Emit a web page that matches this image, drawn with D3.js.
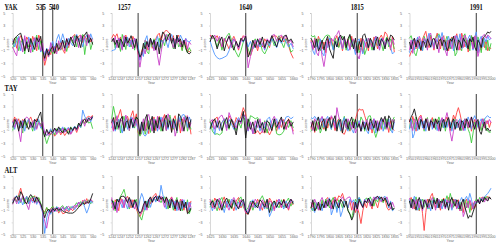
<!DOCTYPE html>
<html>
<head>
<meta charset="utf-8">
<script src="https://cdn.jsdelivr.net/npm/d3@7"></script>
<style>
  body { margin: 0; background: #fff; }
  .axis path, .axis line { stroke: #b0b0b0; stroke-width: 0.5; }
  .axis text { font-family: "Liberation Sans", Arial, sans-serif; font-size: 3.6px; fill: #666; }
  .lbl { font-family: "Liberation Sans", Arial, sans-serif; font-size: 3.6px; fill: #666; }
  .head { font-family: "Liberation Serif", "Times New Roman", serif; font-weight: bold; font-size: 8.5px; fill: #111; }
</style>
</head>
<body>
<div id="chart"></div>
<script>
// sites (rows), windows (columns), events
var rowNames = ["YAK", "TAY", "ALT"];
var colStart = [520, 1242, 1625, 1790, 1950];
var colEnd = [560, 1287, 1660, 1835, 2000];
var events = [[535, 540], [1257], [1640], [1815], [1991]];
var yTicks = [5, 3, 1, -1, -3, -5];
var seriesColors = ["#ff4040", "#40cc40", "#4f96ff", "#c840c8", "#151515"];

// each panel: [red, green, blue, magenta, black], one value per year
var yak535 = [
  [0.4,1.0,-0.6,0.8,1.4,0.2,-0.8,1.2,0.6,-0.4, 1.3,0.4,-1.0,1.5,0.8,-1.2,-3.3,-2.0,-0.8,-1.6, -0.4,-1.4,-0.2,-1.0,0.5,-0.8,-1.4,0.2,-0.5,1.0, 1.2,1.6,0.6,1.3,1.5,0.3,1.4,0.8,1.5,0.4, 1.0],
  [-0.6,0.4,1.2,-1.0,0.2,0.8,-1.5,0.6,-0.4,1.0, -1.2,0.4,1.5,-0.8,0.6,-1.5,-2.2,-1.2,-1.8,-0.6, -1.5,-0.4,-1.2,0.2,-0.9,-0.3,0.6,-1.1,0.3,0.9, 0.2,1.4,-0.4,1.0,0.5,1.6,-1.6,0.7,1.5,-0.8, 0.4],
  [0.8,-0.4,0.6,1.3,-1.0,0.4,1.0,-0.6,1.2,0.2, -0.8,1.0,0.0,0.6,-1.2,-0.5,-1.6,-0.6,-1.4,-0.3, 0.5,-0.9,0.8,1.6,0.3,1.7,0.6,-0.5,1.0,0.3, -0.2,0.8,1.6,0.5,1.2,-0.4,1.0,1.5,0.2,1.7, 0.8],
  [-0.4,-1.2,-1.8,1.0,0.4,-1.2,1.4,-0.6,0.8,-1.3, 0.4,1.1,-0.4,1.0,-1.0,0.2,-2.6,-0.9,-2.0,0.3, -1.2,-0.3,-1.5,0.6,-0.8,0.5,-1.0,1.0,-0.2,0.7, 1.3,0.3,1.0,-0.5,1.5,0.6,1.1,-0.2,1.6,0.9, 0.5],
  [0.0,1.0,1.3,1.6,1.8,0.6,-1.0,0.4,-1.2,0.9, 0.0,-0.8,1.1,0.4,1.3,-1.0,-2.2,-0.7,-1.7,-0.8, -0.3,-1.4,0.2,-0.8,-0.3,0.7,-0.6,0.9,0.0,1.2, 0.5,-0.4,1.4,0.7,-0.5,1.3,1.5,2.0,0.3,1.0, 0.0]
];
var yak1257 = [
  [1.0,1.6,1.2,1.7,0.6,1.2,-0.4,0.9,1.5,0.4, 1.0,-0.3,1.3,0.6,0.3,-1.5,-2.2,-1.0,-0.4,0.7, -0.9,0.2,1.0,-0.6,0.4,0.9,1.5,1.8,0.5,1.6, 2.0,2.3,2.0,1.7,0.6,1.4,-0.4,1.0,1.5,0.3, -0.9,0.6,0.2,-1.0,-1.2,-0.9],
  [0.4,0.9,-0.6,0.7,0.2,-1.1,1.6,0.5,-0.8,1.0, 0.4,-0.4,0.7,-0.9,0.5,-0.4,-2.0,-1.6,-0.5,0.4, -1.1,-1.5,0.5,-0.4,0.9,-0.7,0.2,1.0,-0.6,0.7, -0.2,1.2,1.6,0.9,0.4,-0.7,0.5,1.0,-0.4,0.2, -1.0,0.5,-0.7,-1.3,-0.5,-1.1],
  [-1.0,-0.9,-0.8,0.4,1.0,0.5,-0.7,0.9,0.2,1.2, -0.4,0.7,0.0,1.0,0.5,-0.2,-2.5,-1.2,-1.9,0.7, 1.4,-0.5,0.9,0.4,-0.7,0.5,1.3,-0.4,0.7,0.2, 1.0,0.4,-0.5,0.9,1.6,0.7,-0.4,1.2,0.5,1.5, 0.9,0.2,1.0,0.5,0.4,0.7],
  [0.9,0.4,1.2,-0.5,1.0,0.2,-0.9,1.4,0.4,-0.2, 0.9,0.5,-0.7,1.0,0.0,-1.3,-3.6,-1.8,-0.7,-1.5, 0.4,-0.9,0.7,0.2,-1.0,0.5,-1.8,-3.3,-1.3,0.4, 1.0,1.6,0.7,1.3,0.4,-0.5,0.9,0.2,1.0,-0.4, 0.5,0.0,0.9,-0.7,0.4,0.0],
  [0.5,1.0,0.0,0.7,-0.5,0.9,0.4,-0.4,1.2,0.2, 0.7,1.4,0.4,-0.5,0.9,-1.0,-2.0,-1.5,0.2,-0.7, 0.5,-0.4,1.0,0.0,0.7,-0.9,0.4,-1.5,0.9,2.0, 1.6,0.5,1.3,1.8,0.2,1.0,-0.7,1.5,0.4,0.9, -0.4,0.7,-0.5,-1.3,-1.5,-1.2]
];
var yak1640 = [
  [1.5,1.2,0.9,1.4,0.4,-0.5,0.9,0.2,-0.7,0.5, 1.3,0.4,-0.9,0.7,1.4,1.0,-1.4,-1.8,-0.7,0.4, -1.0,0.5,-0.4,0.9,0.2,-0.5,1.1,1.4,1.3,0.7, 1.3,0.4,1.0,-0.2,-1.4,-2.2],
  [0.9,1.3,0.7,-0.4,1.0,-0.9,0.5,1.3,1.8,0.8, -0.5,-1.3,-2.0,-1.0,0.4,1.1,-0.7,-1.6,0.2,0.9, -0.4,0.5,-1.0,-1.5,-0.7,0.4,1.0,-0.2,0.7,1.4, 0.4,-0.5,0.9,0.2,-1.2,-0.9],
  [0.6,-0.6,-1.6,-2.1,-2.3,-2.2,-2.0,-1.8,-1.0,0.4, 0.9,0.2,-0.5,0.7,0.4,1.0,-0.4,0.5,-0.7,-0.2, 0.7,-0.4,0.2,-0.9,0.5,-0.2,0.9,0.4,-0.5,0.7, 0.2,1.0,0.4,-0.4,0.2,-0.7],
  [1.4,0.9,1.5,0.5,1.3,-0.4,1.0,0.4,1.4,-0.5, 0.9,0.2,-0.7,0.5,1.2,1.4,-3.7,-1.9,-0.4,0.7, -0.5,1.0,0.2,-0.7,0.9,0.4,1.4,1.6,0.5,1.2, 1.5,0.9,1.4,0.2,0.7,-0.4],
  [0.4,1.5,0.9,-0.7,0.5,1.2,-1.0,0.4,1.3,0.2, -0.9,0.5,-0.4,1.0,0.5,1.3,-2.0,-1.0,0.7,-0.5, 0.9,0.0,1.2,-0.5,0.7,0.2,1.4,0.5,-0.4,1.0, 0.4,1.3,1.5,0.5,0.9,0.2]
];
var yak1815 = [
  [0.7,-0.9,1.0,-0.4,1.3,0.5,-0.7,0.4,-1.3,0.9, 0.2,1.0,-0.5,0.7,1.4,-0.4,0.5,-1.0,0.4,-0.5, 0.9,-0.7,1.3,-0.4,0.7,0.2,-0.9,1.0,-1.3,-0.5, 0.4,-1.0,0.9,-0.4,1.2,0.5,-0.7,1.0,1.5,0.7, 2.0,1.6,0.5,-0.9,1.3,-1.2],
  [1.5,1.2,1.4,-0.4,0.9,-1.0,0.5,1.0,1.4,1.5, 1.4,0.4,-0.7,1.0,0.2,-0.5,0.9,1.3,0.4,-0.9, 0.5,1.4,-0.4,0.7,-1.0,0.4,-1.3,-0.5,0.9,-1.6, -0.7,1.0,0.4,-0.9,0.5,1.3,-0.2,0.7,0.2,-1.0, 0.5,1.2,-0.4,0.9,0.4,-0.7],
  [0.4,-1.0,-1.6,0.5,-0.7,0.9,-1.3,-1.8,0.4,-0.5, 1.0,0.2,-0.9,0.5,-0.4,1.2,0.4,-0.7,0.9,0.2, -1.0,-0.5,0.7,-0.2,-1.6,0.5,0.9,-0.4,-1.5,0.4, 1.0,-0.5,0.7,0.2,-0.9,1.3,0.4,-0.7,1.0,0.5, -0.4,0.9,0.2,-0.5,-1.5,-1.2],
  [0.5,-0.7,0.9,-1.3,-1.8,0.4,-2.0,-3.5,-1.5,0.7, -0.4,1.0,0.5,1.3,1.6,2.2,0.9,-0.5,1.0,0.2, 0.7,-0.9,0.4,0.9,-0.7,-1.6,-2.3,-0.7,0.9,0.4, -0.5,1.0,0.2,-0.4,0.7,1.3,0.4,-0.9,0.5,1.0, -0.2,0.7,0.4,-0.5,0.9,0.0],
  [1.0,0.4,-0.5,0.9,-1.0,-0.4,0.7,-0.9,0.5,1.3, -0.7,-1.5,-2.2,0.5,-0.4,1.0,1.5,0.7,1.3,-0.5, 0.9,1.6,0.4,-0.7,1.0,-1.3,0.5,-0.4,1.4,1.7, 0.7,-0.5,1.0,0.4,-0.9,0.5,1.2,-0.2,0.9,0.4, -0.7,1.0,0.5,1.5,1.3,0.7]
];
var yak1991 = [
  [-1.9,-1.2,-0.8,0.5,-0.7,1.0,0.4,-1.0,0.9,1.5, 2.1,0.7,-0.5,1.3,0.4,-0.9,1.0,1.8,0.5,-0.7, 0.9,1.4,-0.4,0.7,-1.0,0.5,1.2,-0.5,0.9,1.7, 0.4,-0.9,1.8,1.0,-0.4,0.7,-1.2,0.5,1.4,-0.7, 0.9,1.8,-1.3,0.4,-0.9,1.0,-0.5,0.7,-1.0,-0.4, -0.7],
  [1.0,1.4,0.4,-1.3,-1.8,-0.7,0.9,0.4,-1.0,1.3, 0.5,-0.4,1.0,1.5,0.7,-0.5,0.9,1.4,1.7,1.0, 0.4,-0.9,0.5,1.3,0.2,-0.7,1.0,0.4,-1.8,-1.3, 0.9,0.5,-1.0,1.3,1.7,-0.4,0.7,-1.0,1.4,0.4, 0.9,-0.7,1.2,0.2,-1.3,0.9,0.4,-0.9,0.7,-1.0, 0.2],
  [-1.3,-0.4,0.7,-0.9,0.4,1.2,-0.7,0.5,-1.0,0.9, 0.2,1.0,1.8,-0.5,0.7,-0.4,1.0,0.4,1.5,0.9, 1.9,0.5,-0.9,0.7,1.3,-0.4,0.9,-1.0,0.5,1.4, 0.4,1.7,-0.7,0.9,0.2,-0.5,1.0,1.5,0.4,-0.9, 1.2,2.0,-1.3,0.7,1.3,-0.4,1.0,0.4,1.4,0.7, 1.0],
  [-0.9,0.7,-1.4,1.0,0.4,-0.5,1.3,0.7,-0.4,1.0, 0.5,-0.9,1.4,1.8,0.4,-0.7,1.0,0.2,-1.3,0.5, 1.2,-0.4,-1.0,-1.8,0.7,0.4,-0.7,1.0,1.4,0.4, -0.9,0.7,1.3,-0.5,1.5,0.9,-0.4,1.0,0.5,-0.7, 1.3,0.5,-1.9,-0.9,0.7,1.4,1.6,1.0,1.5,1.3, 0.9],
  [0.4,-0.7,0.5,1.0,-0.4,0.7,0.2,-0.9,0.5,0.4, -0.5,0.9,0.2,-0.4,0.7,1.0,0.4,-0.7,0.5,0.9, -0.2,0.7,0.4,-1.0,-0.4,0.9,0.5,1.3,0.2,-0.9, 0.7,0.4,-0.5,1.0,0.5,0.2,-0.7,0.9,0.4,1.2, -0.4,-1.0,0.7,0.2,-0.5,0.9,1.3,1.6,2.0,1.8, 2.1]
];

var tay535 = [
  [0.4,1.3,0.2,1.0,-0.4,0.9,0.5,-0.5,0.7,1.3, 0.4,-0.7,1.0,0.5,0.2,-0.7,-1.3,-1.7,-1.2,-1.6, -0.9,-1.8,-1.3,-0.7,-1.6,-1.0,-1.7,-1.2,-0.6,-1.4, -0.8,-0.4,-1.2,-0.3,0.3,0.8,0.3,1.2,1.4,1.2, 1.6],
  [-0.9,0.5,1.0,-0.7,0.4,-1.3,0.7,-0.4,0.9,0.2, -1.0,0.5,-0.5,0.7,0.0,-1.0,-1.8,-3.0,-2.0,-1.4, -0.8,-1.6,-0.6,-1.2,-0.5,-1.1,-0.4,-0.9,-1.2,-0.3, -0.8,-0.2,-0.7,0.3,-0.4,0.8,0.2,1.0,0.3,0.5, -0.6],
  [0.5,-0.7,0.9,0.2,-0.5,0.7,-1.0,0.4,1.0,-0.4, 0.5,-0.9,0.4,0.9,-0.5,-0.3,-1.2,-1.7,-1.2,-0.6, -1.4,-0.7,-1.2,-0.5,-0.9,-0.3,-1.1,-0.6,-0.4,-1.2, -0.6,-0.2,-0.6,0.0,-0.4,2.4,1.4,0.8,1.2,0.5, 1.3],
  [0.7,-0.4,1.0,-0.9,-2.7,0.4,0.9,1.3,1.0,-0.4, 0.5,0.9,-0.7,0.4,-0.2,0.5,-1.4,-0.9,-1.7,-1.3, -1.1,-0.6,-1.5,-0.9,-1.3,-0.5,-1.2,-0.8,-0.5,-1.5, -1.0,-0.4,-0.9,-0.2,0.5,0.9,-0.2,1.0,0.6,1.3, 1.1],
  [-0.4,0.9,0.4,-1.0,0.7,-0.5,1.0,0.0,-0.7,0.5, -0.4,0.9,0.5,1.4,2.1,-0.7,-1.9,-0.7,-1.4,-0.9, -1.2,-0.5,-1.0,-0.3,-0.9,-1.3,-0.6,-1.0,-1.5,-0.4, -0.9,-0.3,-0.7,0.3,-0.2,0.6,1.0,0.4,1.1,0.8, 1.4]
];
var tay1257 = [
  [0.5,-0.9,1.3,0.7,1.6,2.5,1.0,-0.5,0.9,1.4, 0.4,1.5,2.3,0.7,1.8,-1.3,-1.6,-0.7,0.5,-1.0, 0.4,-1.4,0.9,-0.5,1.3,-0.9,0.7,1.4,-0.4,1.0, 1.7,-0.7,0.4,1.3,-1.0,0.9,1.5,-0.4,0.7,-1.3, 1.0,0.4,1.5,-0.5,0.5,-1.5],
  [1.0,3.0,1.6,-0.7,0.9,-1.3,0.5,1.4,-0.4,1.0, -0.9,0.7,0.2,-0.5,1.3,-1.0,-1.8,-1.3,0.4,-1.5, -0.5,0.7,-1.2,0.4,-0.7,0.9,-0.4,1.3,-1.0,0.2, 1.0,-0.9,0.5,1.6,0.4,-0.7,0.9,-1.3,0.5,1.0, -0.4,0.7,1.4,-1.0,0.2,-0.7],
  [-0.5,0.7,-1.0,0.4,0.9,-0.4,-1.3,0.5,1.0,-0.7, 0.4,1.3,-0.5,0.9,0.2,-0.7,-1.0,0.5,-1.5,-1.8, -1.4,-0.5,0.7,-0.9,1.0,0.2,-1.0,0.5,1.3,-0.4, 0.9,0.4,-0.7,1.0,0.2,-0.5,0.7,-1.0,1.4,0.5, 1.6,1.7,1.0,-0.4,1.3,0.5],
  [0.9,-1.0,0.4,1.5,-0.7,1.0,0.5,-0.4,1.6,0.7, -0.9,0.5,1.2,-0.2,0.9,-0.5,-1.4,-0.4,1.0,-0.9, 1.3,1.7,0.4,-1.0,0.9,-0.4,1.4,-0.7,0.5,1.2, 0.2,-0.9,1.8,0.7,-0.5,1.0,-1.8,-0.7,0.9,0.4, -1.0,1.3,0.5,1.5,-0.7,0.4],
  [0.4,1.2,-0.7,0.5,-0.4,0.9,1.4,-1.0,0.4,0.7, -0.5,1.0,-0.4,0.5,1.3,0.9,-1.5,0.5,-0.9,1.0, 1.7,-0.7,0.4,1.4,-1.3,0.7,-0.5,1.2,0.4,-1.0, 0.9,1.6,-0.4,0.7,-1.2,1.0,0.2,-0.9,1.8,1.4, 0.5,-1.0,0.7,1.3,-0.4,0.9]
];
var tay1640 = [
  [0.5,-0.4,0.9,1.3,-0.7,0.4,1.0,-0.5,1.5,0.7, -0.4,1.2,0.5,1.4,2.8,1.8,-0.7,0.4,-1.3,-1.4, -0.9,-1.5,-1.0,-1.3,-0.7,-1.6,-0.8,0.4,-1.0,0.5, -0.4,0.9,-0.7,1.0,0.2,-1.0],
  [0.7,-1.0,-1.5,-1.4,-1.6,-1.3,0.9,0.4,-0.7,1.0, 0.2,-0.9,0.5,-0.5,1.3,0.7,-0.4,1.5,1.3,1.0, 1.2,0.5,-0.9,0.7,-1.3,0.4,-0.5,0.9,-1.4,-1.6, -1.5,-1.0,0.5,-0.4,0.7,-0.5],
  [-0.4,0.5,-1.5,0.7,-0.9,0.4,1.0,-0.5,0.9,0.2, -0.7,0.5,1.2,0.4,1.6,1.3,-1.0,0.5,-1.4,-0.4, 0.7,-1.0,0.4,-0.5,0.9,1.3,-0.4,0.5,1.0,-0.7, 0.9,0.4,1.3,1.4,1.0,1.3],
  [0.4,0.9,-0.7,0.5,1.3,1.6,0.7,-0.9,2.0,1.0, 0.4,-0.5,0.9,0.2,1.8,1.2,-0.9,0.5,-1.4,0.7, -0.4,1.0,-1.2,0.5,0.2,-0.9,0.7,1.4,0.4,-0.5, 1.0,0.2,-0.7,0.5,0.4,-1.5],
  [-0.7,0.5,1.0,-0.4,0.7,-0.9,0.4,1.2,-0.5,0.9, 0.0,-1.6,0.7,0.5,2.2,-2.1,1.0,-0.7,0.5,-1.3, 0.9,-0.5,0.4,-1.2,0.7,0.2,-0.9,1.0,-0.4,0.5, 1.3,-0.7,0.4,0.9,-0.2,0.5]
];
var tay1815 = [
  [-0.7,0.4,-1.2,0.5,-0.4,0.9,0.2,-0.7,1.0,-0.5, 0.7,1.3,0.4,-0.9,0.5,1.0,-0.4,-1.3,-1.5,-0.7, 0.4,-1.0,0.5,-0.4,0.9,2.0,2.6,2.4,2.5,1.5, 0.5,-0.9,0.4,-1.3,0.7,-0.5,-1.0,0.4,-0.7,0.9, -0.4,0.5,-1.2,0.7,-0.5,-0.9],
  [-1.0,-0.4,0.7,-0.9,0.5,-1.3,-0.5,0.4,-1.0,0.7, 0.2,-0.7,1.0,0.5,-0.4,0.9,-1.0,0.4,1.4,-0.5, 0.7,-0.9,0.4,1.0,-0.7,0.5,-0.4,1.3,0.7,-1.0, 0.4,1.4,1.5,0.5,-0.9,-2.0,-1.0,0.4,-0.5,0.9, -0.7,1.0,0.2,-0.9,0.7,1.3],
  [1.2,1.0,1.4,0.9,1.3,0.5,1.2,-0.4,0.9,1.4, 0.4,-0.7,1.0,0.2,-0.5,0.7,-0.9,0.4,1.2,-0.4, -1.0,0.5,-0.7,-1.3,0.4,-0.5,0.7,-1.0,-0.4,0.5, -0.9,-1.4,0.4,-0.7,1.0,-1.3,0.5,-0.4,0.9,-1.0, 0.4,-0.5,1.0,-0.7,-1.3,0.5],
  [0.5,-0.9,1.0,0.4,-0.7,0.9,1.4,0.5,-0.4,1.0, 0.7,1.5,0.9,-0.5,2.8,1.3,0.4,-0.9,0.7,-0.4, 1.0,0.2,-0.7,0.5,-1.3,-0.5,0.4,-1.0,0.7,-0.4, 0.9,0.2,-0.7,0.5,1.0,-0.4,0.7,-0.9,0.4,1.0, 0.2,-0.7,0.5,-0.4,0.9,0.4],
  [-0.4,0.7,-1.0,0.5,1.3,-0.7,0.4,1.0,-0.9,0.5, 1.2,-0.4,0.7,1.5,-1.0,0.5,0.9,-1.3,0.4,1.0, -0.7,0.5,1.3,-0.5,0.9,-0.4,0.2,-1.0,0.5,-0.7, 0.4,-0.9,1.0,0.2,-0.5,0.7,-1.0,0.4,1.2,0.5, 1.4,-0.4,1.5,1.0,-0.7,0.9]
];
var tay1991 = [
  [0.9,-0.5,1.4,0.4,-1.0,0.5,1.3,1.6,0.7,-0.4, 1.0,0.2,-0.9,0.5,1.2,-0.5,0.4,0.9,-0.7,0.4, 1.0,-0.4,0.7,1.3,0.2,-0.9,0.5,1.6,0.9,2.0, 2.8,1.8,0.5,-0.7,0.4,1.0,-0.5,0.7,-1.0,0.2, 0.9,-0.4,0.5,-0.9,0.4,1.0,-0.5,0.2,0.7,-0.4, 0.5],
  [-0.5,1.0,0.4,-0.7,1.3,0.5,-0.4,0.9,0.2,-1.0, 0.5,1.2,-0.5,0.7,0.2,1.0,-0.7,0.4,1.3,0.5, -0.4,0.9,-1.0,0.5,1.0,0.2,-0.7,0.4,0.9,-0.5, 0.7,0.2,-0.9,0.5,1.0,0.4,-0.7,-1.4,-2.9,-1.3, 0.5,-0.4,0.7,0.2,-0.9,0.5,1.0,-0.4,-1.0,-1.2, -1.1],
  [-0.7,1.0,-2.1,-1.4,0.5,-0.9,0.4,1.0,-0.5,0.7, -1.0,0.4,-0.4,0.9,-0.7,0.5,0.2,-0.9,0.7,0.4, 1.0,-0.5,0.5,-0.4,0.9,0.4,-1.0,0.7,0.2,-0.5, 0.5,1.0,-0.4,0.7,-0.9,0.4,1.3,0.5,-0.7,0.9, 1.5,0.7,-0.4,0.5,1.0,0.2,0.9,1.3,1.5,1.2, 1.2],
  [0.7,0.4,-0.9,1.0,0.5,-0.4,0.9,1.4,0.2,-0.7, 0.5,1.0,-0.4,0.7,0.2,-0.5,0.9,0.4,-1.0,0.5, 1.2,0.4,1.0,2.0,0.7,-1.3,-2.6,-1.0,0.5,0.9, -0.4,0.7,0.2,-0.9,1.0,0.5,-0.4,0.7,1.3,0.4, -0.5,0.9,0.2,-0.7,0.5,1.0,-0.4,0.7,0.2,0.9, 0.4],
  [0.5,1.3,1.8,2.6,1.4,0.4,-0.7,0.9,0.4,-0.5, 1.0,0.2,-0.9,0.7,0.5,-0.4,1.0,0.2,0.7,-1.0, 0.5,0.9,-0.4,0.7,1.2,-0.5,0.4,1.0,-0.7,0.5, 0.2,-0.9,0.7,0.4,-0.5,1.0,0.5,-0.4,1.3,0.2, -0.7,0.5,0.9,-1.0,-1.5,-0.4,0.5,-0.9,-0.5,-1.0, -0.8]
];

var alt535 = [
  [0.8,1.4,0.6,1.8,2.9,1.5,0.3,1.5,0.2,1.2, 0.7,1.6,0.3,1.2,0.0,-0.9,-1.2,-0.5,-1.3,-0.7, -0.3,-1.1,-0.5,-1.4,-0.8,-1.5,-1.4,-0.8,-1.2,-0.6, -1.0,-0.4,-0.2,0.5,-0.2,0.8,0.2,1.1,0.4,0.9, 0.5],
  [0.2,1.2,0.5,1.6,0.4,1.3,0.2,1.4,0.5,1.3, 1.5,1.4,0.6,1.3,0.3,-0.8,-1.5,-0.4,-1.1,-0.6, -0.2,-0.9,-0.3,-1.1,-0.4,-0.1,-0.7,-0.2,-0.8,-0.3, -0.5,-0.1,0.4,-0.3,0.6,0.1,0.8,0.3,0.9,0.2, 0.6],
  [0.6,1.3,1.6,0.2,1.1,0.0,0.9,1.5,0.2,1.0, 0.4,1.3,0.1,0.9,-0.3,-1.3,-4.9,-2.2,-0.9,-1.6, -0.5,-1.2,-0.3,-0.7,-1.1,-0.4,-0.9,-0.3,-1.0,-0.5, -0.2,-0.8,-0.1,0.5,0.0,0.6,-0.4,-1.4,-0.5,0.8, 0.3],
  [0.1,1.1,0.2,1.4,0.5,1.6,1.0,0.1,-0.8,0.9, 1.3,0.3,1.4,0.5,0.0,-1.1,-2.8,-4.0,-2.0,-0.7, -1.2,-0.5,-1.1,-0.4,-0.9,-0.3,-1.0,-0.5,-0.2,-0.8, -0.5,0.0,-0.4,0.5,0.0,0.6,0.9,0.2,0.7,1.0, 0.6],
  [0.3,1.1,1.5,0.8,2.3,1.7,0.6,0.2,1.2,1.8, 1.3,0.5,1.4,0.7,0.2,-0.9,-2.2,-1.1,-0.7,-1.3, -0.6,-1.0,-0.5,-0.9,-0.7,-1.0,-1.2,-1.3,-1.4,-1.4, -1.4,-1.2,-0.8,-0.4,0.0,0.4,0.1,0.6,0.3,1.0, 2.0]
];
var alt1257 = [
  [0.4,-0.7,0.9,0.2,-1.0,1.3,0.5,-0.4,1.0,1.5, 0.7,-0.5,0.9,0.4,-0.7,-1.5,-2.0,-1.3,-0.7,0.4, -0.5,1.0,0.2,1.3,1.6,2.0,1.2,1.5,0.9,1.4, 0.5,1.2,-0.4,0.9,1.4,0.4,-1.0,0.7,-0.5,1.0, 0.2,-0.9,0.5,-1.3,-0.4,0.7],
  [-0.5,0.7,-1.0,1.0,0.4,1.5,2.0,2.7,1.4,0.5, -0.7,0.9,-0.4,0.5,1.0,-1.3,-2.0,-2.6,-1.3,-0.4, 0.7,-0.5,1.0,0.4,1.3,0.7,1.5,0.9,0.4,1.2, 1.4,0.5,-0.7,1.0,0.4,-0.9,0.5,1.3,-0.4,0.7, -1.0,0.4,-0.5,0.9,-1.5,-0.7],
  [0.7,-0.4,0.5,-0.9,1.0,0.4,-0.5,0.9,0.2,-0.7, 1.0,0.4,-0.5,0.7,0.0,-1.0,0.9,2.0,1.2,-0.9, 0.4,1.0,-0.4,0.7,1.3,0.5,1.5,1.0,3.4,1.8, 0.4,-0.7,0.9,0.2,1.0,-0.4,0.7,-1.0,0.5,0.2, -0.7,0.9,-0.4,0.5,-0.9,0.4],
  [1.3,-0.9,0.5,-1.3,0.9,0.2,1.0,-0.5,1.4,0.7, -0.4,0.9,0.0,-0.7,0.5,-1.0,-1.6,-1.3,-0.4,0.7, -0.9,0.5,1.2,0.4,0.9,1.6,1.0,0.5,1.5,0.7, -0.4,1.0,0.4,-0.5,1.3,0.7,-0.2,0.9,-0.9,0.4, 1.0,-0.5,0.2,-1.0,0.5,-0.4],
  [0.9,0.2,-0.7,1.0,0.5,1.4,1.5,1.5,1.0,0.4, 1.3,0.5,-0.4,0.9,0.2,-0.9,-1.4,-1.0,0.0,0.7, -0.4,0.9,1.4,0.5,1.2,1.5,0.7,1.6,1.0,1.3, 0.4,1.4,0.7,-0.5,1.0,0.4,-0.7,0.9,0.2,-1.0, 0.7,-0.4,0.5,-1.5,-1.2,-0.5]
];
var alt1640 = [
  [0.7,-0.5,1.2,0.4,-0.9,0.5,1.4,-0.4,0.9,0.2, -1.0,0.7,1.3,-0.5,0.4,-1.4,-1.6,-0.7,0.5,-0.4, 1.0,0.2,-0.9,0.7,-0.4,1.2,0.5,-0.7,0.9,0.4, -0.5,1.0,0.2,-0.9,0.5,0.0],
  [-0.4,0.9,0.2,-1.0,0.7,1.3,-0.5,0.4,1.0,-0.7, 0.5,-0.2,0.9,1.4,-0.4,-1.0,-0.5,0.7,-0.9,0.4, -0.2,0.9,1.6,0.5,-0.7,0.4,-1.0,0.7,0.2,-0.5, 0.9,-0.4,0.5,1.2,-0.2,0.7],
  [0.5,-1.0,0.4,0.9,-0.5,0.2,-1.3,0.7,-0.4,1.0, 0.4,-0.9,0.5,-0.2,0.7,-0.7,-1.5,0.4,0.9,-0.5, 0.5,-1.0,0.2,-0.7,0.9,-2.0,-1.0,0.4,-0.5,1.0, 0.2,-0.7,0.7,-0.4,0.9,0.4],
  [1.0,0.2,-0.7,0.5,1.2,-0.4,0.7,0.0,-0.9,0.5, 1.3,0.4,-0.5,0.9,0.2,-1.3,-1.0,0.5,-0.4,1.0, 0.4,-0.7,0.9,0.0,-0.5,0.7,0.4,-1.0,0.5,1.0, -0.4,0.7,0.0,-0.7,1.0,0.5],
  [0.0,0.7,-0.4,1.0,0.4,-0.9,0.5,1.2,0.2,-0.5, 0.9,0.0,-0.7,0.5,1.0,-0.9,-1.6,-0.4,0.7,0.0, -0.5,0.9,0.4,-0.4,1.0,-1.3,0.2,0.7,-0.4,0.5, 0.0,0.9,-0.5,0.4,1.0,0.2]
];
var alt1815 = [
  [-0.7,0.4,-1.0,-0.5,0.2,-0.9,0.5,-0.4,0.9,1.3, 0.5,-0.7,1.0,1.4,0.7,1.6,1.3,2.0,0.9,0.4, -0.5,0.7,-0.9,0.5,-1.3,-0.4,-1.5,-3.2,-1.0,0.4, -0.5,0.9,0.2,-0.7,1.0,0.4,-0.5,0.9,1.3,0.5, 1.0,-0.4,-0.9,-0.5,-0.8,-0.6],
  [-0.4,-1.0,0.5,-0.7,0.2,-0.5,0.9,-0.4,1.0,0.4, -0.5,0.7,1.3,0.2,-0.7,0.9,0.4,-0.5,1.0,0.2, -0.9,-1.5,-2.3,-0.7,1.0,0.4,1.3,0.7,-0.4,0.9, 1.2,0.4,1.4,0.7,-0.2,1.0,0.5,1.4,0.9,0.4, 1.3,0.7,-0.4,0.5,-0.9,-0.5],
  [-0.9,-0.5,-1.3,0.4,-0.7,0.2,-1.0,0.5,-0.4,0.9, 1.2,-1.7,-0.7,0.5,-1.3,0.4,-2.0,-1.0,0.7,0.2, -0.5,1.0,0.4,0.9,-0.4,0.7,1.3,0.5,-0.2,1.0, 0.4,1.2,0.7,0.2,0.9,1.4,1.0,1.5,0.7,1.3, 1.5,0.9,-0.5,0.7,-1.0,-0.7],
  [0.5,-0.4,1.0,0.2,-0.9,0.7,1.3,0.4,-0.5,0.9, 0.2,-0.7,0.5,1.2,0.4,-0.4,0.9,1.4,0.7,1.0, 1.3,1.4,0.5,-0.9,0.4,-1.0,0.7,0.2,-0.5,0.9, 0.4,1.0,-0.2,0.7,1.4,0.9,1.5,1.0,0.5,1.3, 0.9,1.4,0.4,-0.7,0.5,-0.4],
  [-0.5,0.9,-1.0,-0.4,0.5,-0.9,0.2,-0.5,0.7,-0.2, 1.0,0.4,-0.7,0.9,0.2,-0.5,1.0,0.5,-0.4,0.7, -1.0,-1.6,-2.6,-1.8,0.5,-0.7,1.0,0.2,-0.4,0.7, 0.4,1.2,0.5,-0.2,0.9,1.3,1.5,1.0,1.4,0.7, 1.2,0.5,-0.2,0.4,-0.8,-0.6]
];
var alt1991 = [
  [0.5,1.3,0.4,-0.7,1.0,0.2,-1.0,0.9,-1.5,-4.4, -1.3,1.0,0.4,1.5,2.0,0.7,-0.5,0.9,0.2,-0.9, 0.7,1.2,-0.4,0.5,1.3,0.4,-0.7,1.0,0.2,-0.5, 0.9,-1.0,0.4,-1.3,0.5,1.0,-0.4,0.7,-0.9,0.4, -0.5,0.2,0.9,0.5,1.3,0.7,1.4,1.0,1.5,1.2, 1.1],
  [0.4,1.0,-0.5,0.7,1.4,0.4,-0.9,0.5,1.0,-0.4, 0.7,0.2,-0.7,0.9,0.4,1.3,0.5,-0.5,0.9,0.4, 1.0,-0.2,0.7,1.6,0.5,2.0,0.9,-0.4,1.0,0.2, -0.7,0.5,-1.0,0.4,0.9,-0.5,0.7,-1.3,0.2,-0.7, 0.5,1.0,0.4,1.3,0.7,1.4,0.9,1.5,1.1,1.3, 1.0],
  [0.9,-0.4,0.7,1.5,0.4,-0.9,0.5,1.0,-0.5,0.4, 0.9,-0.7,0.2,-1.0,0.5,1.0,0.4,-0.5,0.9,0.2, -0.7,0.5,1.0,-0.4,0.7,0.2,-0.9,0.5,1.0,0.4, -0.5,0.7,1.3,0.5,1.0,1.5,0.7,2.0,1.0,-0.4, 0.5,0.2,0.9,0.4,1.2,0.7,1.4,1.7,2.0,2.4, 2.9],
  [1.2,0.4,-0.7,0.9,0.2,1.0,-0.5,0.7,-1.0,0.4, 0.9,0.0,-0.5,0.7,1.3,0.4,-0.9,0.5,1.0,-0.4, 0.7,0.2,-0.7,0.9,0.4,1.0,-0.4,0.5,0.9,-0.7, 0.4,-1.0,0.5,-2.0,-1.2,0.4,-0.5,0.9,0.2,-0.7, 0.7,0.4,1.0,0.2,0.9,1.4,0.5,1.2,0.7,1.3, 1.0],
  [0.7,-0.5,1.0,0.4,-0.9,0.5,1.3,0.2,-0.7,0.9, 0.4,-0.4,1.0,0.5,-0.7,0.9,0.2,1.2,-0.5,0.7, 0.4,1.0,-0.4,0.5,-0.9,0.7,1.3,0.4,-0.2,0.9, 0.5,-0.7,0.4,1.0,-0.4,-1.3,-2.3,-1.8,-2.1,-1.2, -0.4,0.4,0.9,0.2,1.0,0.5,1.3,0.9,0.7,1.4, 1.0]
];

var panels = [
  [yak535, yak1257, yak1640, yak1815, yak1991],
  [tay535, tay1257, tay1640, tay1815, tay1991],
  [alt535, alt1257, alt1640, alt1815, alt1991]
];

// layout
var W = 500, H = 247;
var colX = [[12.7, 92.7], [111.7, 191], [210, 293.3], [311, 394.3], [409.5, 491]];
var rowY = [[13, 76], [94, 156], [176, 234]];
var headOffset = [[-1.8, 1.3], [-14], [0], [0], [0]];

var svg = d3.select("#chart").append("svg")
  .attr("width", W)
  .attr("height", H);

var line = d3.line();

rowNames.forEach(function(name, r) {
  svg.append("text")
    .attr("class", "head")
    .attr("x", 4.5)
    .attr("y", rowY[r][0] - 3)
    .attr("textLength", 13)
    .attr("lengthAdjust", "spacingAndGlyphs")
    .text(name);

  colStart.forEach(function(start, c) {
    var x = d3.scaleLinear().domain([start, colEnd[c]]).range(colX[c]);
    var y = d3.scaleLinear().domain([-5, 5]).range([rowY[r][1], rowY[r][0]]);
    var g = svg.append("g");

    g.append("g")
      .attr("class", "axis")
      .attr("transform", "translate(0," + rowY[r][1] + ")")
      .call(d3.axisBottom(x)
        .tickValues(d3.range(start, colEnd[c] + 1, 5))
        .tickFormat(d3.format("d"))
        .tickSize(1)
        .tickPadding(0.8));

    g.append("g")
      .attr("class", "axis")
      .attr("transform", "translate(" + colX[c][0] + ",0)")
      .call(d3.axisLeft(y)
        .tickValues(yTicks)
        .tickSize(1)
        .tickPadding(6.5));

    g.append("text")
      .attr("class", "lbl")
      .attr("transform", "translate(" + (colX[c][0] - 4) + "," + (rowY[r][0] + rowY[r][1]) / 2 + ") rotate(-90)")
      .attr("text-anchor", "middle")
      .text("z-score");

    g.append("text")
      .attr("class", "lbl")
      .attr("x", (colX[c][0] + colX[c][1]) / 2)
      .attr("y", rowY[r][1] + 7.5)
      .attr("text-anchor", "middle")
      .text("Year");

    // event markers
    events[c].forEach(function(ev, k) {
      g.append("line")
        .attr("x1", x(ev)).attr("x2", x(ev))
        .attr("y1", (r == 0 && c == 0) ? 4 : rowY[r][0])
        .attr("y2", rowY[r][1])
        .attr("stroke", "#5a5a5a")
        .attr("stroke-width", 1.2);
      if (r == 0) {
        var label = String(ev);
        svg.append("text")
          .attr("class", "head")
          .attr("x", x(ev) + headOffset[c][k])
          .attr("y", 10)
          .attr("text-anchor", "middle")
          .attr("textLength", label.length == 3 ? 10 : 13)
          .attr("lengthAdjust", "spacingAndGlyphs")
          .text(label);
      }
    });

    panels[r][c].forEach(function(vals, s) {
      g.append("path")
        .attr("fill", "none")
        .attr("stroke", seriesColors[s])
        .attr("stroke-width", 0.9)
        .attr("stroke-linejoin", "round")
        .attr("d", line(vals.map(function(v, i) { return [x(start + i), y(v)]; })));
    });
  });
});
</script>
</body>
</html>
